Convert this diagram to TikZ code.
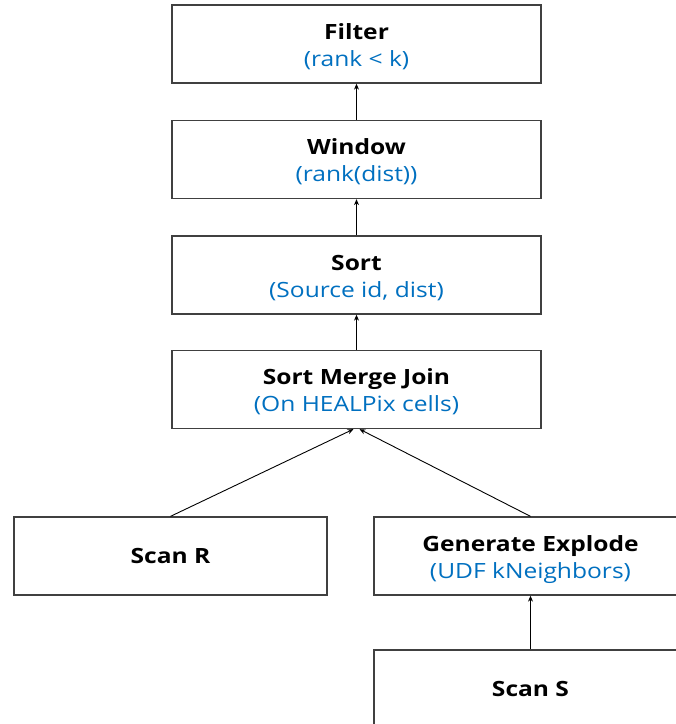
\documentclass[tikz,border=0pt]{standalone}
\usepackage{fontspec}
\setmainfont{Open Sans}[FakeStretch=1.17]
\usetikzlibrary{arrows.meta}
\definecolor{subblue}{HTML}{0070C0}
\begin{document}
\begin{tikzpicture}[x=1pt,y=-1pt,
  box/.style={draw=black!75, line width=1.3pt, fill=white, minimum width=369pt, minimum height=78pt, inner sep=0pt},
  smallbox/.style={box, minimum width=313pt},
  ttl/.style={anchor=base, inner sep=0pt, font=\fontsize{21}{25}\selectfont\bfseries},
  sub/.style={anchor=base, inner sep=0pt, text=subblue, font=\fontsize{21}{25}\selectfont},
  arr/.style={draw=black, line width=0.9pt, -{Stealth[length=6pt,width=5pt]}}]
\useasboundingbox (0,0) rectangle (676,724);
\clip (0,0) rectangle (676,724);
\node[box] (filter) at (356.5,44) {};
\node[ttl] (filterT) at (356.5,39) {Filter};
\node[sub] (filterS) at (356.5,66) {(rank < k)};
\node[box] (window) at (356.5,159.5) {};
\node[ttl] (windowT) at (356.5,154.5) {Window};
\node[sub] (windowS) at (356.5,181.5) {(rank(dist))};
\node[box] (sort) at (356.5,275) {};
\node[ttl] (sortT) at (356.5,270) {Sort};
\node[sub] (sortS) at (356.5,297) {(Source id, dist)};
\node[box] (smj) at (356.5,389.5) {};
\node[ttl] (smjT) at (356.5,384.5) {Sort Merge Join};
\node[sub] (smjS) at (356.5,411.5) {(On HEALPix cells)};
\node[smallbox] (scanr) at (170.5,556) {};
\node[ttl] (scanrT) at (170.5,563.5) {Scan R};
\node[smallbox] (gen) at (530.5,556) {};
\node[ttl] (genT) at (530.5,551) {Generate Explode};
\node[sub] (genS) at (530.5,578) {(UDF kNeighbors)};
\node[smallbox] (scans) at (530.5,689) {};
\node[ttl] (scansT) at (530.5,696.5) {Scan S};
\draw[arr] (window.north) -- (filter.south);
\draw[arr] (sort.north) -- (window.south);
\draw[arr] (smj.north) -- (sort.south);
\draw[arr] (scanr.north) -- ([xshift=-3pt]smj.south);
\draw[arr] (gen.north) -- ([xshift=3pt]smj.south);
\draw[arr] (scans.north) -- (gen.south);
\end{tikzpicture}
\end{document}
